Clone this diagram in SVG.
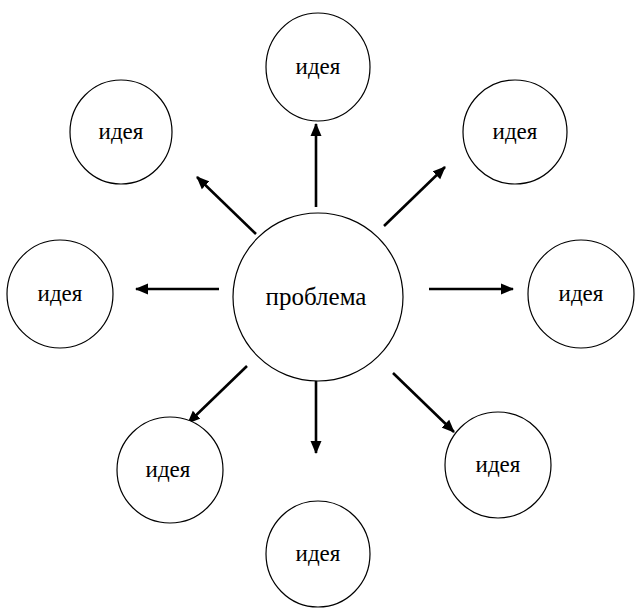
<svg xmlns="http://www.w3.org/2000/svg" width="640" height="608" viewBox="0 0 640 608">
<style>
.n{fill:#fff;stroke:#000;stroke-width:1.2}
.t{font-family:"Liberation Serif","DejaVu Serif","Times New Roman",serif;font-size:23px;fill:#000;text-anchor:middle}
.big{font-size:25px}
.c{stroke:#000;stroke-width:2.6;fill:none;marker-end:url(#ah)}
</style>
<defs>
<marker id="ah" markerWidth="14" markerHeight="12" refX="12" refY="6" orient="auto" markerUnits="userSpaceOnUse">
<path d="M0,0.5 L13,6 L0,11.5 Z" fill="#000"/>
</marker>
</defs>
<rect width="640" height="608" fill="#fff"/>
<g id="connectors">
<line class="c" x1="316" y1="207" x2="316" y2="124"/>
<line class="c" x1="256" y1="234" x2="197" y2="177"/>
<line class="c" x1="384" y1="226" x2="445" y2="167"/>
<line class="c" x1="219" y1="289" x2="136" y2="289"/>
<line class="c" x1="429" y1="289" x2="513" y2="289"/>
<line class="c" x1="247" y1="366" x2="188" y2="423"/>
<line class="c" x1="316" y1="373" x2="316" y2="453"/>
<line class="c" x1="393" y1="373" x2="454" y2="432"/>
</g>
<g id="center"><ellipse class="n" cx="318" cy="297" rx="85" ry="84"/><text class="t big" x="316" y="305">проблема</text></g>
<g id="top"><ellipse class="n" cx="318" cy="67" rx="52" ry="54"/><text class="t" x="318" y="74">идея</text></g>
<g id="topleft"><ellipse class="n" cx="121" cy="132" rx="51" ry="52"/><text class="t" x="121" y="139">идея</text></g>
<g id="topright"><ellipse class="n" cx="515" cy="132" rx="52" ry="52"/><text class="t" x="515" y="139">идея</text></g>
<g id="left"><ellipse class="n" cx="60" cy="294" rx="53" ry="54"/><text class="t" x="60" y="301">идея</text></g>
<g id="right"><ellipse class="n" cx="581" cy="294" rx="53" ry="54"/><text class="t" x="581" y="301">идея</text></g>
<g id="bottomleft"><ellipse class="n" cx="170" cy="470" rx="53" ry="53"/><text class="t" x="168" y="477">идея</text></g>
<g id="bottom"><ellipse class="n" cx="318" cy="554" rx="52" ry="53"/><text class="t" x="318" y="561">идея</text></g>
<g id="bottomright"><ellipse class="n" cx="498" cy="465" rx="53" ry="53"/><text class="t" x="498" y="472">идея</text></g>
</svg>
